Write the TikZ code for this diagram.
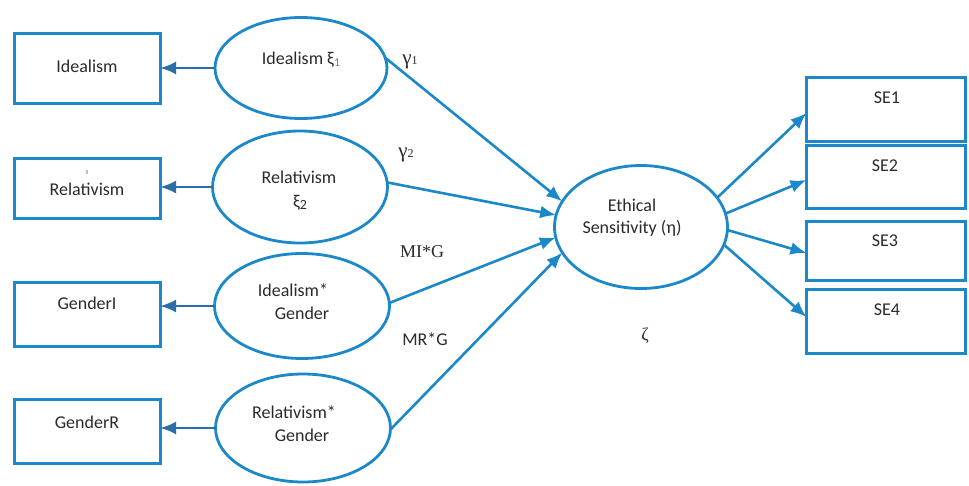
\documentclass[tikz,border=0pt]{standalone}
\usepackage{fontspec}
\setmainfont{Carlito}
\newfontfamily\serifx{Liberation Serif}
\usetikzlibrary{arrows.meta,shapes.geometric}
\definecolor{bl}{HTML}{1B88CA}
\definecolor{dbl}{HTML}{2B6EA8}
\definecolor{tx}{HTML}{2A2A2A}
\begin{document}
\begin{tikzpicture}[x=1pt,y=-1pt,
 box/.style={draw=bl,line width=3pt,minimum width=146pt,minimum height=64pt,inner sep=0pt,outer sep=0pt},
 sebox/.style={box,minimum width=159pt},
 ell/.style={draw=bl,line width=2.8pt,ellipse,inner sep=0pt,outer sep=0pt},
 txt/.style={text=tx,font=\fontsize{18}{21}\selectfont,inner sep=0pt},
 stxt/.style={text=tx,font=\serifx\fontsize{18}{21}\selectfont,inner sep=0pt},
 arr/.style={line width=2.6pt,-{Latex[length=16pt,width=13pt]}},
 larr/.style={arr,draw=dbl},
 rarr/.style={arr,draw=bl},
]
\useasboundingbox (0,0) rectangle (969,485);
% left boxes
\node[box,minimum height=70pt] (bi) at (87,68) {};
\node[txt] (tbi) at (87,66) {Idealism};
\node[box,minimum height=60pt] (br) at (87,188) {};
\node[txt] (tbr) at (87,189) {Relativism};
\node[text=gray,font=\fontsize{6}{6}\selectfont,inner sep=0pt] (tmark) at (87,172) {ll};
\node[box] (bgi) at (87,314) {};
\node[txt] (tbgi) at (87,303) {GenderI};
\node[box] (bgr) at (87,431) {};
\node[txt] (tbgr) at (87,422) {GenderR};
% left ellipses
\node[ell,minimum width=172pt,minimum height=101pt] (ide) at (301,68) {};
\node[txt] (tide) at (301,60) {Idealism ξ{\color{gray}\fontsize{12}{12}\selectfont\raisebox{-2pt}{1}}};
\node[ell,minimum width=175pt,minimum height=112pt] (rel) at (300,187) {};
\node[txt] (trel1) at (299,177) {Relativism};
\node[txt] (trel2) at (300,203) {ξ{\fontsize{14}{14}\selectfont\raisebox{-2pt}{2}}};
\node[ell,minimum width=175pt,minimum height=105pt] (ig) at (302,306) {};
\node[txt] (tig1) at (293,290) {Idealism*};
\node[txt] (tig2) at (302,313) {Gender};
\node[ell,minimum width=175pt,minimum height=108pt] (rg) at (303,428) {};
\node[txt] (trg1) at (294,412) {Relativism*};
\node[txt] (trg2) at (302,435) {Gender};
% central
\node[ell,minimum width=173pt,minimum height=123pt] (eth) at (641,227) {};
\node[txt] (teth1) at (632,205) {Ethical};
\node[txt] (teth2) at (632,228) {Sensitivity (η)};
% right boxes
\node[sebox] (se1) at (886,109) {};
\node[txt] (tse1) at (887,98) {SE1};
\node[sebox,minimum height=63pt] (se2) at (886,176.5) {};
\node[txt] (tse2) at (885,166) {SE2};
\node[sebox,minimum height=59pt] (se3) at (886,250.5) {};
\node[txt] (tse3) at (885,241) {SE3};
\node[sebox] (se4) at (886,321) {};
\node[txt] (tse4) at (887,310) {SE4};
% labels
\node[stxt] (g1) at (410,62) {{\fontsize{21}{21}\selectfont γ}{\fontsize{12}{12}\selectfont 1}};
\node[stxt] (g2) at (406,155) {{\fontsize{21}{21}\selectfont γ}{\fontsize{12}{12}\selectfont 2}};
\node[stxt] (mig) at (422,252) {MI*G};
\node[txt] (mrg) at (425,339) {MR*G};
\node[stxt] (zeta) at (645,336) {ζ};
% left arrows
\draw[larr] (ide.west) -- (ide.west -| bi.east);
\draw[larr] (rel.west) -- (rel.west -| br.east);
\draw[larr] (ig.west) -- (ig.west -| bgi.east);
\draw[larr] (rg.west) -- (rg.west -| bgr.east);
% to eth
\draw[rarr] (ide.7) -- (eth.162);
\draw[rarr] (rel.3) -- (eth.172);
\draw[rarr] (ig.2) -- (eth.187);
\draw[rarr] (rg.-1) -- (eth.198);
% right arrows
\draw[rarr] (eth.21) -- ([yshift=-4pt]se1.west);
\draw[rarr] (eth.9) -- ([yshift=-3.5pt]se2.west);
\draw[rarr] (eth.-2) -- ([yshift=-2.5pt]se3.west);
\draw[rarr] (eth.-12) -- ([yshift=4pt]se4.west);
\end{tikzpicture}
\end{document}
